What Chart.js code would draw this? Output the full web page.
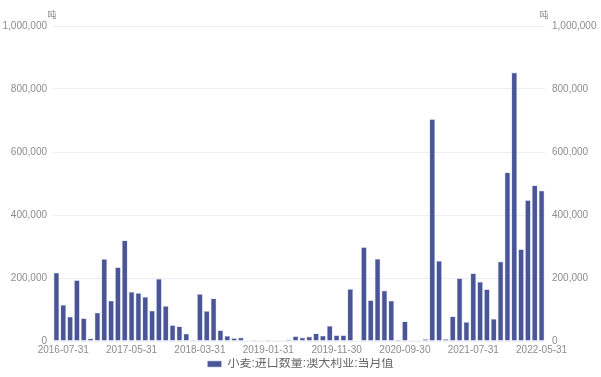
<!DOCTYPE html>
<html>
<head>
<meta charset="utf-8">
<script src="https://cdn.jsdelivr.net/npm/chart.js@4"></script>
<style>
  html, body { margin: 0; padding: 0; background: #fff; }
  #wrap { width: 601px; height: 377px; }
</style>
</head>
<body>
<div id="wrap"><canvas id="wheat-chart"></canvas></div>
<script>
// month-end dates, 2016-06 .. 2022-05
const months = [
    '2016-06-30', '2016-07-31', '2016-08-31', '2016-09-30', '2016-10-31', '2016-11-30', '2016-12-31',
    '2017-01-31', '2017-02-28', '2017-03-31', '2017-04-30', '2017-05-31', '2017-06-30',
    '2017-07-31', '2017-08-31', '2017-09-30', '2017-10-31', '2017-11-30', '2017-12-31',
    '2018-01-31', '2018-02-28', '2018-03-31', '2018-04-30', '2018-05-31', '2018-06-30',
    '2018-07-31', '2018-08-31', '2018-09-30', '2018-10-31', '2018-11-30', '2018-12-31',
    '2019-01-31', '2019-02-28', '2019-03-31', '2019-04-30', '2019-05-31', '2019-06-30',
    '2019-07-31', '2019-08-31', '2019-09-30', '2019-10-31', '2019-11-30', '2019-12-31',
    '2020-01-31', '2020-02-29', '2020-03-31', '2020-04-30', '2020-05-31', '2020-06-30',
    '2020-07-31', '2020-08-31', '2020-09-30', '2020-10-31', '2020-11-30', '2020-12-31',
    '2021-01-31', '2021-02-28', '2021-03-31', '2021-04-30', '2021-05-31', '2021-06-30',
    '2021-07-31', '2021-08-31', '2021-09-30', '2021-10-31', '2021-11-30', '2021-12-31',
    '2022-01-31', '2022-02-28', '2022-03-31', '2022-04-30', '2022-05-31'
];

// 小麦:进口数量:澳大利亚:当月值 (吨)
const importVolume = [
    217000, 115000, 77000, 193000, 72000, 8000, 90000,
    260000, 128000, 234000, 319000, 156000, 152000,
    140000, 96000, 197000, 111000, 50000, 46000,
    23000, 3000, 149000, 95000, 135000, 34000,
    16000, 9000, 11000, 1000, 3000, 1000,
    3000, 500, 500, 5000, 15000, 11000,
    14000, 24000, 17000, 48000, 18000, 18000,
    165000, 0, 298000, 129000, 261000, 160000,
    128000, 4000, 62000, 500, 500, 6000,
    704000, 254000, 6000, 78000, 199000, 60000,
    215000, 188000, 164000, 70000, 252000, 535000,
    852000, 291000, 447000, 494000, 477000
];

const yTicks = [0, 200000, 400000, 600000, 800000, 1000000];
const seriesName = '小麦:进口数量:澳大利亚:当月值';
const unitLabel = '吨';

const FONT = '"Liberation Sans", Arial, "Noto Sans CJK SC", sans-serif';
const GREY = '#8c8c8c';

// unit text above both value axes
const unitPlugin = {
    id: 'unitText',
    afterDraw(chart) {
        const { ctx, chartArea } = chart;
        ctx.save();
        ctx.font = '9px ' + FONT;
        ctx.fillStyle = GREY;
        ctx.textAlign = 'center';
        ctx.textBaseline = 'middle';
        ctx.fillText(unitLabel, chartArea.left - 1, 16);
        ctx.fillText(unitLabel, chartArea.right - 1, 16);
        ctx.restore();
    }
};

const fmt = v => Number(v).toLocaleString('en-US');

new Chart(document.getElementById('wheat-chart'), {
    type: 'bar',
    data: {
        labels: months,
        datasets: [{
            label: seriesName,
            data: importVolume,
            backgroundColor: '#4a5597',
            borderColor: '#b9bedb',
            borderWidth: 0.6,
            barPercentage: 0.82,
            categoryPercentage: 1.0
        }]
    },
    options: {
        responsive: true,
        maintainAspectRatio: false,
        animation: false,
        layout: { padding: { top: 26, left: 0, right: 0, bottom: -3 } },
        plugins: {
            legend: {
                position: 'bottom',
                labels: {
                    boxWidth: 14,
                    boxHeight: 6,
                    padding: 0,
                    color: '#666',
                    font: { size: 12, family: FONT }
                }
            },
            tooltip: { enabled: false }
        },
        scales: {
            x: {
                grid: { display: false, drawTicks: false },
                border: { display: false },
                ticks: {
                    autoSkip: false,
                    maxRotation: 0,
                    padding: 3,
                    color: GREY,
                    font: { size: 10, family: FONT },
                    callback: (v, i) => (i % 10 === 1 ? months[i] : '')
                },
                afterFit: s => { s.height = 17; }
            },
            y: {
                position: 'left',
                min: 0,
                max: 1000000,
                afterBuildTicks: s => { s.ticks = yTicks.map(v => ({ value: v })); },
                grid: { color: '#eceef5', drawTicks: false },
                border: { display: false },
                ticks: { padding: 6, color: GREY, font: { size: 10, family: FONT }, callback: fmt },
                afterFit: s => { s.width = 53; }
            },
            y1: {
                position: 'right',
                min: 0,
                max: 1000000,
                afterBuildTicks: s => { s.ticks = yTicks.map(v => ({ value: v })); },
                grid: { display: false, drawTicks: false },
                border: { display: false },
                ticks: { padding: 7, color: GREY, font: { size: 10, family: FONT }, callback: fmt },
                afterFit: s => { s.width = 56; }
            }
        }
    },
    plugins: [unitPlugin]
});
</script>
</body>
</html>
